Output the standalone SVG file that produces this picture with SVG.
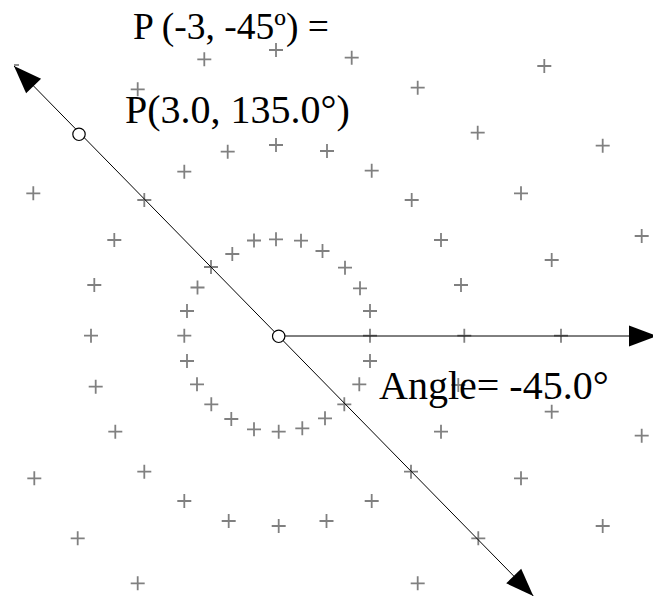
<svg xmlns="http://www.w3.org/2000/svg" width="653" height="597" viewBox="0 0 653 597">
<style>
.lbl{font-family:"Liberation Serif","Times New Roman",serif;fill:#000}
.ax{stroke:#000;stroke-width:1;fill:none}
.pt{fill:#fff;stroke:#000;stroke-width:1.2}
</style>
<defs>
<path id="c" d="M-7,0H7M0,-7V7" stroke="#808080" stroke-width="1.8" fill="none"/>
<marker id="ah" markerUnits="userSpaceOnUse" markerWidth="30" markerHeight="24" viewBox="-29 -11 30 22" refX="0" refY="0" orient="auto-start-reverse">
<path d="M0,0L-28,-10.5L-28,10.5Z" fill="#000"/>
</marker>
</defs>
<rect width="653" height="597" fill="#fff"/>
<g id="grid">
<use href="#c" x="370" y="335.7"/><use href="#c" x="370" y="311"/><use href="#c" x="360" y="288.3"/><use href="#c" x="345" y="267.7"/><use href="#c" x="322.5" y="251"/><use href="#c" x="301" y="240.7"/><use href="#c" x="276" y="239.3"/><use href="#c" x="254" y="240.5"/><use href="#c" x="232.3" y="254"/><use href="#c" x="211" y="267"/><use href="#c" x="197.5" y="287.5"/><use href="#c" x="187" y="311"/><use href="#c" x="184.3" y="335.7"/><use href="#c" x="187" y="361"/><use href="#c" x="197" y="384.3"/><use href="#c" x="211.3" y="404.3"/><use href="#c" x="231.3" y="419"/><use href="#c" x="254" y="429.3"/><use href="#c" x="278.7" y="431.7"/><use href="#c" x="302.3" y="428.3"/><use href="#c" x="325" y="418.3"/><use href="#c" x="344.3" y="404.3"/><use href="#c" x="359.3" y="384.3"/><use href="#c" x="370" y="361"/>
<use href="#c" x="464.3" y="335.7"/><use href="#c" x="461" y="285"/><use href="#c" x="441" y="240"/><use href="#c" x="411.7" y="200"/><use href="#c" x="371.7" y="170.7"/><use href="#c" x="327" y="151"/><use href="#c" x="276" y="145"/><use href="#c" x="227.7" y="151.7"/><use href="#c" x="184.3" y="171.7"/><use href="#c" x="144.3" y="200"/><use href="#c" x="114.3" y="240"/><use href="#c" x="94.3" y="285"/><use href="#c" x="91" y="335.7"/><use href="#c" x="95.7" y="386.7"/><use href="#c" x="115.3" y="431.7"/><use href="#c" x="144.3" y="471.7"/><use href="#c" x="184.3" y="501"/><use href="#c" x="228.7" y="521"/><use href="#c" x="278.7" y="526"/><use href="#c" x="326.5" y="521"/><use href="#c" x="371.7" y="501"/><use href="#c" x="411" y="471.7"/><use href="#c" x="441" y="431.7"/><use href="#c" x="458.3" y="385"/>
<use href="#c" x="561" y="335.7"/><use href="#c" x="551.7" y="260"/><use href="#c" x="521" y="193.3"/><use href="#c" x="477.7" y="132.7"/><use href="#c" x="417.7" y="87.7"/><use href="#c" x="351.7" y="57.7"/><use href="#c" x="276" y="50"/><use href="#c" x="204.3" y="59.3"/><use href="#c" x="137.7" y="89.3"/><use href="#c" x="33.3" y="193.3"/><use href="#c" x="34.3" y="478.3"/><use href="#c" x="77.7" y="538.3"/><use href="#c" x="137.7" y="583.3"/><use href="#c" x="417.7" y="583.3"/><use href="#c" x="478.3" y="538.3"/><use href="#c" x="521" y="478.3"/><use href="#c" x="551.7" y="411.7"/>
<use href="#c" x="544.3" y="66"/><use href="#c" x="602.7" y="145.7"/><use href="#c" x="641.7" y="236"/><use href="#c" x="641.7" y="435.7"/><use href="#c" x="602.7" y="526"/>
<path d="M14,65H19" stroke="#808080" stroke-width="1.8"/>
</g>
<g id="connectors">
<line class="ax" x1="14" y1="66" x2="533.3" y2="596" marker-start="url(#ah)" marker-end="url(#ah)"/>
<line class="ax" x1="278.7" y1="336" x2="657" y2="336" marker-end="url(#ah)"/>
</g>
<g id="origin"><circle class="pt" cx="278.7" cy="336.3" r="6.2"/></g>
<g id="point-p"><circle class="pt" cx="79" cy="134.3" r="6.2"/></g>
<g id="label-p-input"><text class="lbl" x="133" y="39" font-size="37.5">P (-3, -45º) =</text></g>
<g id="label-p-polar"><text class="lbl" x="125" y="123" font-size="40">P(3.0, 135.0°)</text></g>
<g id="label-angle"><text class="lbl" x="379" y="399" font-size="40">Angle= -45.0°</text></g>
</svg>
